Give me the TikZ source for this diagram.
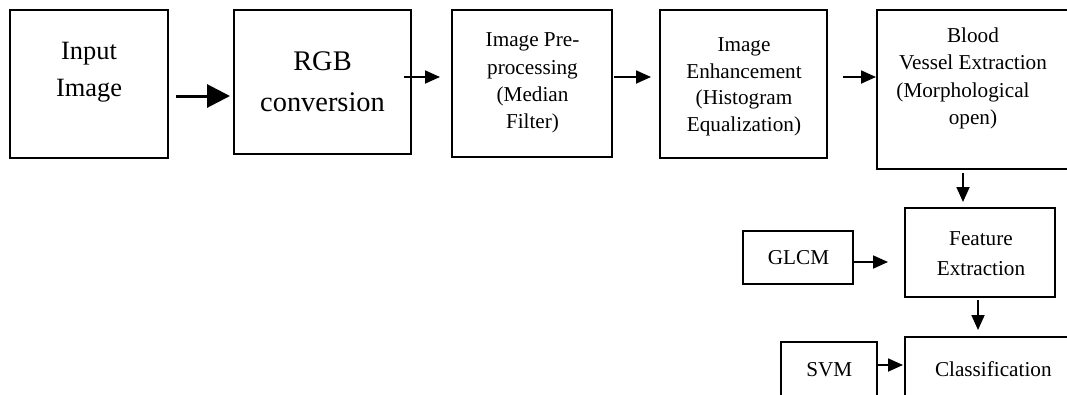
\documentclass[tikz,border=0pt]{standalone}
\usepackage{fontspec}
\setmainfont{Liberation Serif}
\usetikzlibrary{arrows.meta,calc}
\begin{document}
\begin{tikzpicture}[x=1pt,y=-1pt,
  box/.style={draw, line width=1.8pt, anchor=north west, inner sep=0pt, outer sep=0pt},
  txt/.style={align=center, inner sep=0pt, font=\fontsize{21.2}{27.5}\selectfont},
  arr/.style={line width=1.8pt, -{Triangle[length=15pt,width=13pt]}},
  bigarr/.style={line width=3pt, -{Triangle[length=23pt,width=23pt]}}]
\useasboundingbox (0,0) rectangle (1067,394);
\clip (0,0) rectangle (1067,394);
% boxes
\node[box, minimum width=158pt, minimum height=148pt] (b1) at (10,10) {};
\node[box, minimum width=177pt, minimum height=144pt] (b2) at (234,10) {};
\node[box, minimum width=160pt, minimum height=147pt] (b3) at (452,10) {};
\node[box, minimum width=167pt, minimum height=148pt] (b4) at (660,10) {};
\node[box, minimum width=192pt, minimum height=159pt] (b5) at (877,10) {};
\node[box, minimum width=150pt, minimum height=89pt] (fe) at (905,208) {};
\node[box, minimum width=110pt, minimum height=53pt] (gl) at (743,231) {};
\node[box, minimum width=96pt, minimum height=70pt] (sv) at (781,342) {};
\node[box, minimum width=177pt, minimum height=75pt] (cl) at (905,337) {};
% texts
\node[txt, font=\fontsize{26.4}{37.4}\selectfont] (t1) at (89,70.5) {\strut Input\\\strut Image};
\node[txt, font=\fontsize{28.4}{40.3}\selectfont] (t2) at (322.5,82.8) {\strut RGB\\\strut conversion};
\node[txt, font=\fontsize{21.2}{27.2}\selectfont] (t3) at (532.5,82.3) {\strut Image Pre-\\\strut processing\\\strut (Median\\\strut Filter)};
\node[txt, font=\fontsize{21.2}{26.5}\selectfont] (t4) at (744,86) {\strut Image\\\strut Enhancement\\\strut (Histogram\\\strut Equalization)};
\node[txt] (t5) at (973,77.75) {\strut Blood\\\strut Vessel Extraction\\\strut \mbox{(Morphological\hspace{20pt}}\\\strut open)};
\node[txt, font=\fontsize{21.2}{30}\selectfont] (tf) at (981,254) {\strut Feature\\\strut Extraction};
\node[txt] (tg) at (798.5,258.5) {\strut GLCM};
\node[txt] (ts) at (829.3,370.5) {\strut SVM};
\node[txt] (tc) at (993.3,370.5) {\strut Classification};
% connectors
\draw[bigarr] ($(b1.east)+(8,12)$) -- ($(b2.west)+(-4,14)$);
\draw[arr] ($(b2.east)+(-7,-5)$) -- ($(b3.west)+(-12,-6.5)$);
\draw[arr] ($(b3.east)+(2,-6.5)$) -- ($(b4.west)+(-9,-7)$);
\draw[arr] ($(b4.east)+(16,-7)$) -- ($(b5.west)+(-1,-12.5)$);
\draw[arr] ($(b5.south)+(-10,4)$) -- ($(fe.north)+(-17,-6)$);
\draw[arr] ($(fe.south)+(-2,3)$) -- ($(cl.north)+(-15.5,-7)$);
\draw[arr] ($(gl.east)+(0,4.5)$) -- ($(fe.west)+(-17,9.5)$);
\draw[arr] ($(sv.east)+(0,-12)$) -- ($(cl.west)+(-2,-9.5)$);
\end{tikzpicture}
\end{document}
